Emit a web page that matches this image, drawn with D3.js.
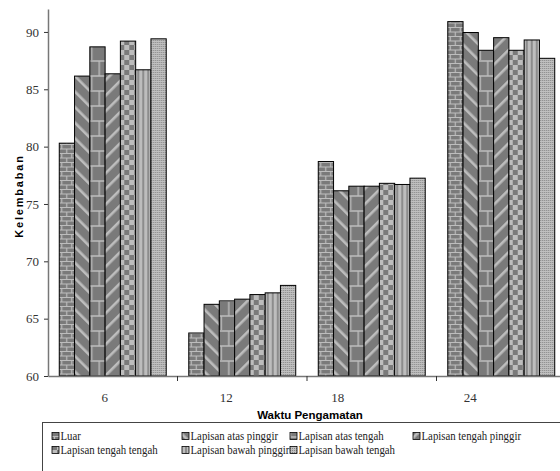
<!DOCTYPE html>
<html>
<head>
<meta charset="utf-8">
<script src="https://cdn.jsdelivr.net/npm/d3@7/dist/d3.min.js"></script>
</head>
<body style="margin:0">
<svg id="chart" width="560" height="471" font-family="Liberation Serif"></svg>
<script>
// observation times (x categories)
const times = ["6", "12", "18", "24"];
// layers (series)
const layers = [
    "Luar", "Lapisan atas pinggir", "Lapisan atas tengah", "Lapisan tengah pinggir",
    "Lapisan tengah tengah", "Lapisan bawah pinggir", "Lapisan bawah tengah"
];
// humidity values per layer, one per time
const luar          = [80.3, 63.75, 78.7, 90.9];
const atasPinggir   = [86.15, 66.25, 76.15, 89.95];
const atasTengah    = [88.7, 66.55, 76.55, 88.4];
const tengahPinggir = [86.35, 66.7, 76.55, 89.5];
const tengahTengah  = [89.2, 67.1, 76.8, 88.4];
const bawahPinggir  = [86.7, 67.25, 76.7, 89.3];
const bawahTengah   = [89.4, 67.9, 77.25, 87.7];
const yTicks = [60, 65, 70, 75, 80, 85, 90];

const series = [luar, atasPinggir, atasTengah, tengahPinggir, tengahTengah, bawahPinggir, bawahTengah];

const DARK = "#7a7a7a", LIGHT = "#bdbdbd";
const SERIF = '"Liberation Serif"', SANS = '"Liberation Sans"';

const svg = d3.select("#chart");

// ==== fill patterns (excel-like) ====
const defs = svg.append("defs");
function pat(id, w, h, bg) {
    const p = defs.append("pattern").attr("id", id)
        .attr("patternUnits", "userSpaceOnUse")
        .attr("width", w).attr("height", h);
    p.append("rect").attr("width", w).attr("height", h).attr("fill", bg);
    return p;
}
// 0: small brick
let p = pat("p0", 10, 9, DARK);
p.append("path").attr("d", "M0,0.5H10M0,5H10M2.5,0.5V5M7.5,5V9")
    .attr("stroke", LIGHT).attr("stroke-width", 1.2).attr("fill", "none");
// 1: wide downward diagonal
p = pat("p1", 11, 11, DARK).attr("patternTransform", "rotate(-45)");
p.append("rect").attr("width", 2.6).attr("height", 11).attr("fill", LIGHT);
// 2: large brick
p = pat("p2", 16, 30, DARK);
p.append("path").attr("d", "M0,1H16M0,16H16M8,1V16M0.5,16V30")
    .attr("stroke", LIGHT).attr("stroke-width", 1.4).attr("fill", "none");
// 3: wide upward diagonal
p = pat("p3", 11, 11, DARK).attr("patternTransform", "rotate(45)");
p.append("rect").attr("width", 2.6).attr("height", 11).attr("fill", LIGHT);
// 4: checkerboard
p = pat("p4", 10, 10, DARK);
p.append("rect").attr("width", 5).attr("height", 5).attr("fill", LIGHT);
p.append("rect").attr("x", 5).attr("y", 5).attr("width", 5).attr("height", 5).attr("fill", LIGHT);
// 5: vertical stripes
p = pat("p5", 5, 10, LIGHT);
p.append("rect").attr("x", 3).attr("width", 2).attr("height", 10).attr("fill", "#8c8c8c");
// 6: fine dots
p = pat("p6", 2, 2, "#c0c0c0");
p.append("rect").attr("width", 1).attr("height", 1).attr("fill", "#858585");

// ==== scales ====
const x = d3.scaleBand().domain(times)
    .range([48, 566]).paddingInner(0.174).paddingOuter(0.087);
const x1 = d3.scaleBand().domain(d3.range(layers.length))
    .range([0, x.bandwidth()]);
const y = d3.scaleLinear().domain([60, 92]).range([376, 9]);

// ==== bars ====
const groups = svg.append("g").selectAll("g")
    .data(times)
    .join("g")
    .attr("transform", d => `translate(${x(d)},0)`);

groups.selectAll("rect")
    .data((t, ti) => series.map((s, si) => ({ si, v: s[ti] })))
    .join("rect")
    .attr("x", d => x1(d.si))
    .attr("width", x1.bandwidth())
    .attr("y", d => y(d.v))
    .attr("height", d => y(60) - y(d.v))
    .attr("fill", d => `url(#p${d.si})`)
    .attr("stroke", "#000")
    .attr("stroke-width", 1);

// ==== axes ====
const axisColor = "#777";
const yAxis = svg.append("g")
    .attr("transform", "translate(48,0)")
    .call(d3.axisLeft(y).tickValues(yTicks).tickSize(4).tickPadding(5).tickSizeOuter(0))
    .attr("font-family", "Liberation Serif").attr("font-size", 13);
yAxis.select(".domain").attr("stroke", axisColor).attr("stroke-width", 1.5);
yAxis.selectAll(".tick line").attr("stroke", "#333");
yAxis.selectAll("text")
    .style("font-family", SERIF).attr("fill", "#333");

// label shifts reproduce the original's off-centre category labels
const labelShift = [-8, -16, -34, -31];
const xAxis = svg.append("g")
    .attr("transform", "translate(0,376)")
    .call(d3.axisBottom(x).tickSize(0).tickPadding(17))
    .attr("font-family", "Liberation Serif").attr("font-size", 13);
xAxis.select(".domain").attr("stroke", axisColor).attr("stroke-width", 1.5);
xAxis.selectAll("text")
    .attr("dx", (d, i) => labelShift[i])
    .style("font-family", SERIF).attr("fill", "#333");

// separators between categories
const gap = x.step() * x.paddingInner() / 2;
svg.append("g").selectAll("line")
    .data(times.slice(1))
    .join("line")
    .attr("x1", d => x(d) - gap).attr("x2", d => x(d) - gap)
    .attr("y1", 376).attr("y2", 381)
    .attr("stroke", "#333");

// titles
svg.append("text")
    .attr("x", 310).attr("y", 419)
    .attr("text-anchor", "middle")
    .style("font-family", SANS)
    .style("font-weight", "bold").style("font-size", "11.5px")
    .text("Waktu Pengamatan");

svg.append("text")
    .attr("transform", "translate(23,196) rotate(-90)")
    .attr("text-anchor", "middle")
    .style("font-family", SANS)
    .style("font-weight", "bold").style("font-size", "11px")
    .style("letter-spacing", "1.8px")
    .text("Kelembaban");

// ==== legend ====
svg.append("rect")
    .attr("x", 42.5).attr("y", 422.5)
    .attr("width", 540).attr("height", 60)
    .attr("fill", "none").attr("stroke", "#444");

const legendCols = [52, 182, 290, 413];
const legendRows = [436, 450];
const item = svg.append("g").selectAll("g")
    .data(layers)
    .join("g")
    .attr("transform", (d, i) => `translate(${legendCols[i % 4]},${legendRows[Math.floor(i / 4)]})`);
item.append("rect")
    .attr("x", 0).attr("y", -3.5).attr("width", 7).attr("height", 7)
    .attr("fill", (d, i) => `url(#p${i})`)
    .attr("stroke", "#000").attr("stroke-width", 0.8);
item.append("text")
    .attr("transform", "translate(8.5,4) scale(0.9,1)")
    .style("font-family", SERIF)
    .style("font-size", "12px").attr("fill", "#222")
    .text(d => d);
</script>
</body>
</html>
